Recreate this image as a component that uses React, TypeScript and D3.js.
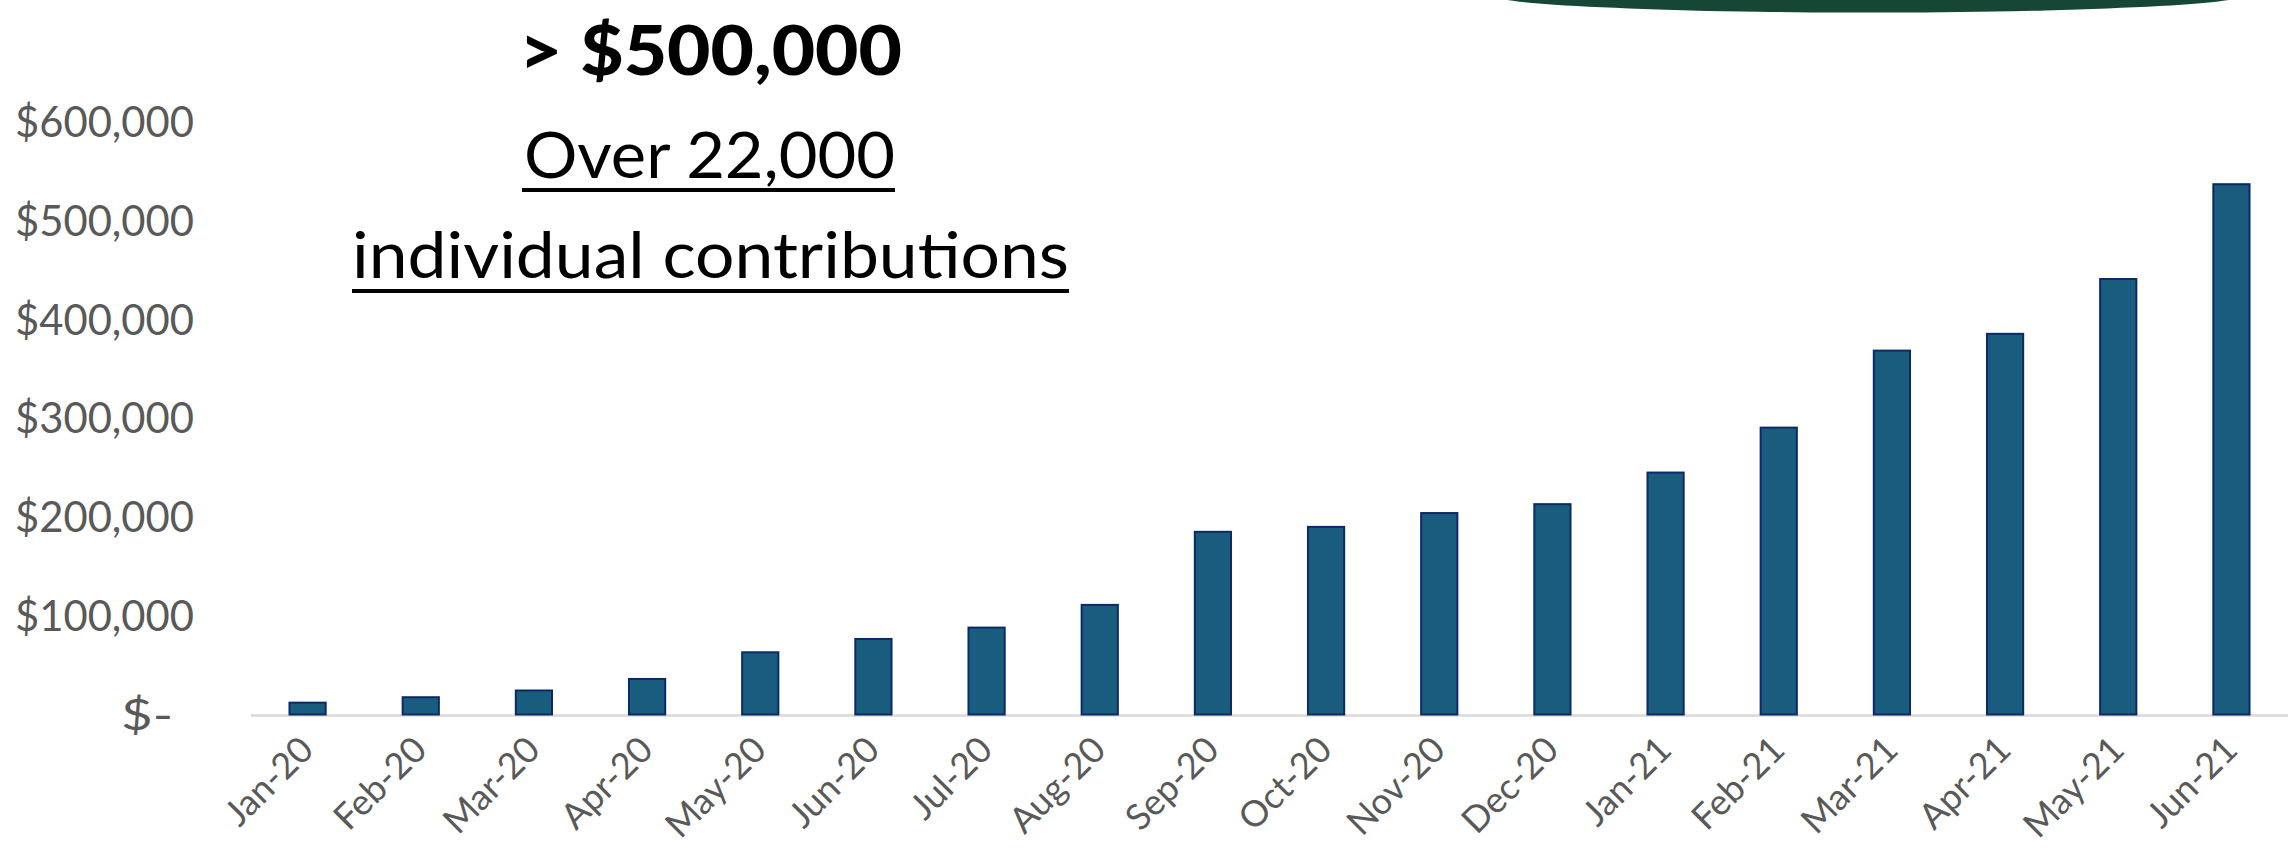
import React from "react";
import * as d3 from "d3";

const categories = [
  "Jan-20", "Feb-20", "Mar-20", "Apr-20", "May-20", "Jun-20", "Jul-20", "Aug-20", "Sep-20",
  "Oct-20", "Nov-20", "Dec-20", "Jan-21", "Feb-21", "Mar-21", "Apr-21", "May-21", "Jun-21",
];
const values = [
  12000, 17500, 24300, 36000, 63000, 76500, 88000, 111000, 185000,
  190000, 204000, 213000, 245000, 290500, 368500, 385500, 441000, 537000,
];
const yTicks = [0, 100000, 200000, 300000, 400000, 500000, 600000];
const yTickLabels = ["$-", "$100,000", "$200,000", "$300,000", "$400,000", "$500,000", "$600,000"];
const headline = "> $500,000";
const subLines = ["Over 22,000", "individual contributions"];

const W = 2293;
const H = 868;
const FONT = "Lato, 'Open Sans', sans-serif";

export default function App() {
  const x = d3
    .scaleBand<string>()
    .domain(categories)
    .range([251, 2288])
    .paddingInner(0.68)
    .paddingOuter(0.34);
  const y = d3.scaleLinear().domain([0, 600000]).range([714.5, 122]);

  // decorative green shape at top
  const cx = 1868, cy = -5, rx = 377, ry = 17.5;

  return (
    <svg
      width={W}
      height={H}
      viewBox={`0 0 ${W} ${H}`}
      style={{ position: "absolute", left: 0, top: 0, display: "block", background: "#fff" }}
      fontFamily={FONT}
    >
      <ellipse cx={cx} cy={cy} rx={rx} ry={ry} fill="#164634" />

      {/* headline */}
      <text x={710.5} y={75} textAnchor="middle" fontSize={69} fontWeight={900} fill="#000"
        textLength={383} lengthAdjust="spacingAndGlyphs">
        {headline}
      </text>
      <text x={709.5} y={178} textAnchor="middle" fontSize={64} fill="#000"
        textLength={371} lengthAdjust="spacingAndGlyphs">
        {subLines[0]}
      </text>
      <rect x={522} y={188} width={373} height={4} fill="#000" />
      <text x={710.5} y={278} textAnchor="middle" fontSize={64} fill="#000"
        textLength={717} lengthAdjust="spacingAndGlyphs">
        {subLines[1]}
      </text>
      <rect x={352} y={289} width={717} height={4} fill="#000" />

      {/* y axis labels */}
      {yTicks.map((t, i) => (
        <text
          key={t}
          x={t === 0 ? 173 : 194}
          y={y(t) + 15}
          textAnchor="end"
          fontSize={42}
          fill="#595959"
          textLength={t === 0 ? 52 : 179}
          lengthAdjust="spacingAndGlyphs"
        >
          {yTickLabels[i]}
        </text>
      ))}

      {/* axis line */}
      <line x1={251} x2={2288} y1={715.5} y2={715.5} stroke="#d9d9d9" strokeWidth={2.5} />

      {/* bars */}
      {categories.map((c, i) => (
        <rect
          key={c}
          x={x(c)}
          y={y(values[i])}
          width={x.bandwidth()}
          height={y(0) - y(values[i])}
          fill="#1a5c7e"
          stroke="#0c2a66"
          strokeWidth={2}
        />
      ))}

      {/* x labels */}
      {categories.map((c) => {
        const px = (x(c) as number) + x.bandwidth() / 2 + 8;
        const py = 752;
        return (
          <text
            key={c}
            transform={`translate(${px},${py}) rotate(-45)`}
            textAnchor="end"
            fontSize={36}
            fill="#595959"
          >
            {c}
          </text>
        );
      })}
    </svg>
  );
}
